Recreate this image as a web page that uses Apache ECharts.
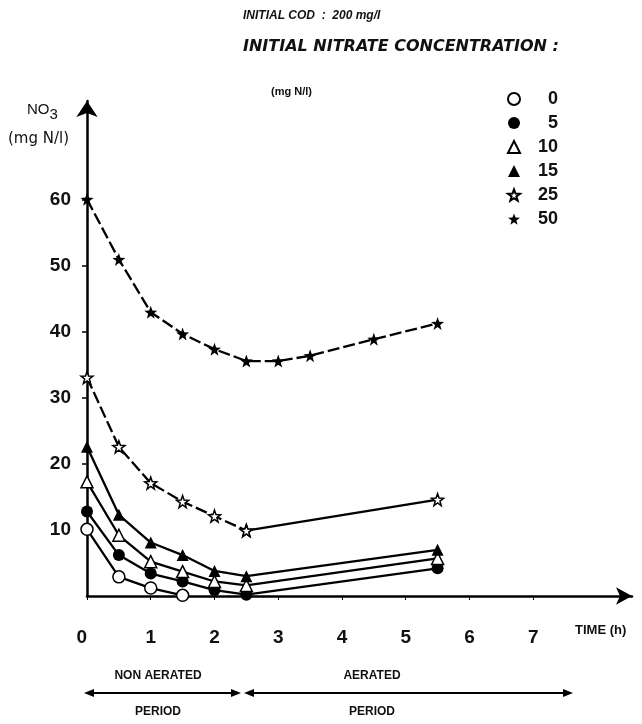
<!DOCTYPE html>
<html>
<head>
<meta charset="utf-8">
<script src="https://cdn.jsdelivr.net/npm/echarts@6/dist/echarts.min.js"></script>
<style>
  html, body { margin: 0; padding: 0; background: #fff; }
  #main { width: 642px; height: 724px; }
</style>
</head>
<body>
<div id="main"></div>
<script>
// temps (h) et concentrations
var timeA = [0, 0.5, 1, 1.5];
var timeB = [0, 0.5, 1, 1.5, 2, 2.5, 5.5];
var time50 = [0, 0.5, 1, 1.5, 2, 2.5, 3, 3.5, 4.5, 5.5];

var no3_0 = [10.1, 2.9, 1.2, 0.1];
var no3_5 = [12.8, 6.2, 3.4, 2.2, 0.9, 0.2, 4.2];
var no3_10 = [17.3, 9.2, 5.2, 3.7, 2.2, 1.6, 5.7];
var no3_15 = [22.6, 12.3, 8.1, 6.2, 3.8, 3.0, 7.0];
var no3_25 = [33.1, 22.6, 17.1, 14.3, 12.1, 9.9, 14.6];
var no3_50 = [60.1, 51.0, 43.0, 39.7, 37.4, 35.6, 35.6, 36.4, 38.9, 41.3];

var xTicks = [0, 1, 2, 3, 4, 5, 6, 7];
var yTicks = [10, 20, 30, 40, 50, 60];

var STAR = 'path://M50 0 L62 33 L98 35 L69 56 L79 90 L50 70 L21 90 L31 56 L2 35 L38 33 Z';
var FONT = "'Liberation Sans', Arial, sans-serif";
var WIDE = "'DejaVu Sans', sans-serif";

function pairs(t, v) {
    var out = [];
    for (var i = 0; i < v.length; i++) {
        out.push([t[i], v[i]]);
    }
    return out;
}

function makeSeries(name, t, v, symbol, hollow, size, dashed) {
    return {
        name: name,
        type: 'line',
        data: pairs(t, v),
        symbol: symbol,
        symbolSize: size,
        showAllSymbol: true,
        lineStyle: { color: '#000', width: 2.3, type: dashed ? [12, 4] : 'solid' },
        itemStyle: hollow
            ? { color: '#fff', borderColor: '#000', borderWidth: 1.5 }
            : { color: '#000', borderColor: '#000', borderWidth: 0 },
        emphasis: { disabled: true },
        z: 3
    };
}

// la courbe 25 est tiretée pendant la période non aérée, pleine ensuite
var s25a = makeSeries('25', timeB.slice(0, 6), no3_25.slice(0, 6), STAR, true, 12, true);
var s25b = makeSeries('25', timeB.slice(5), no3_25.slice(5), STAR, true, 12, false);
s25b.z = 2;

var seriesList = [
    makeSeries('0', timeA, no3_0, 'circle', true, 12, false),
    makeSeries('5', timeB, no3_5, 'circle', false, 12, false),
    makeSeries('10', timeB, no3_10, 'triangle', true, 12, false),
    makeSeries('15', timeB, no3_15, 'triangle', false, 12, false),
    s25b,
    s25a,
    makeSeries('50', time50, no3_50, STAR, false, 13, true)
];

var legendNames = ['0', '5', '10', '15', '25', '50'];
var legendIcons = ['circle', 'circle', 'triangle', 'triangle', STAR, STAR];
var legendData = [];
for (var i = 0; i < legendNames.length; i++) {
    legendData.push({ name: legendNames[i], icon: legendIcons[i] });
}

var chart = echarts.init(document.getElementById('main'), null, { renderer: 'canvas' });
var option = {
    backgroundColor: '#fff',
    animation: false,
    grid: { left: 87, right: 10, top: 101, bottom: 128 },
    legend: {
        orient: 'vertical',
        left: 502,
        top: 85,
        itemWidth: 12,
        itemHeight: 12,
        itemGap: 6,
        selectedMode: false,
        data: legendData,
        formatter: function (name) { return '{a|' + name + '}'; },
        textStyle: {
            rich: {
                a: { width: 33, align: 'right', fontSize: 18, lineHeight: 18, fontWeight: 'bold', fontFamily: FONT, color: '#111' }
            }
        }
    },
    xAxis: {
        type: 'value',
        min: 0,
        max: 8.55,
        interval: 1,
        splitLine: { show: false },
        axisLine: {
            show: true,
            lineStyle: { color: '#000', width: 2.5 },
            symbol: ['none', 'arrow'],
            symbolSize: [13, 16]
        },
        axisTick: { show: true, length: 4, lineStyle: { color: '#000', width: 1 }, customValues: xTicks },
        axisLabel: {
            customValues: xTicks,
            margin: 32,
            fontSize: 19,
            fontWeight: 'bold',
            fontFamily: FONT,
            color: '#111',
            alignMinLabel: 'right',
            formatter: function (v) { return v > 7 ? '' : String(v); }
        }
    },
    yAxis: {
        type: 'value',
        min: 0,
        max: 75,
        interval: 10,
        splitLine: { show: false },
        axisLine: {
            show: true,
            lineStyle: { color: '#000', width: 2.5 },
            symbol: ['none', 'arrow'],
            symbolSize: [16, 16]
        },
        axisTick: { show: true, length: 5, lineStyle: { color: '#000', width: 1.5 }, customValues: yTicks },
        axisLabel: {
            customValues: yTicks,
            margin: 16,
            fontSize: 19,
            fontWeight: 'bold',
            fontFamily: FONT,
            color: '#111',
            formatter: function (v) { return (v === 0 || v > 60) ? '' : String(v); }
        }
    },
    graphic: [
        { type: 'text', left: 243, top: 10, style: { text: 'INITIAL COD  :  200 mg/l', font: 'italic bold 12px ' + FONT, fill: '#111' } },
        { type: 'text', left: 243, top: 39, style: { text: 'INITIAL NITRATE CONCENTRATION :', font: 'italic bold 16px ' + WIDE, fill: '#111' } },
        { type: 'text', left: 271, top: 86, style: { text: '(mg N/l)', font: 'bold 11px ' + FONT, fill: '#111' } },
        {
            type: 'text', left: 27, top: 102,
            style: {
                text: '{n|NO}{s|3}',
                rich: {
                    n: { font: '15px ' + FONT, fill: '#111' },
                    s: { font: '15px ' + FONT, fill: '#111', padding: [10, 0, 0, 0] }
                }
            }
        },
        { type: 'text', left: 8, top: 132, style: { text: '(mg N/l)', font: '15px ' + WIDE, fill: '#111' } },
        { type: 'text', left: 575, top: 624, style: { text: 'TIME (h)', font: 'bold 13px ' + FONT, fill: '#111' } },
        { type: 'text', x: 158, top: 670, style: { text: 'NON AERATED', font: 'bold 12px ' + FONT, fill: '#111', textAlign: 'center' } },
        { type: 'text', x: 158, top: 706, style: { text: 'PERIOD', font: 'bold 12px ' + FONT, fill: '#111', textAlign: 'center' } },
        { type: 'text', x: 372, top: 670, style: { text: 'AERATED', font: 'bold 12px ' + FONT, fill: '#111', textAlign: 'center' } },
        { type: 'text', x: 372, top: 706, style: { text: 'PERIOD', font: 'bold 12px ' + FONT, fill: '#111', textAlign: 'center' } },
        { type: 'line', shape: { x1: 88, y1: 693, x2: 238, y2: 693 }, style: { stroke: '#000', lineWidth: 2 } },
        { type: 'polygon', shape: { points: [[84, 693], [94, 689], [94, 697]] }, style: { fill: '#000' } },
        { type: 'polygon', shape: { points: [[241, 693], [231, 689], [231, 697]] }, style: { fill: '#000' } },
        { type: 'line', shape: { x1: 248, y1: 693, x2: 568, y2: 693 }, style: { stroke: '#000', lineWidth: 2 } },
        { type: 'polygon', shape: { points: [[244, 693], [254, 689], [254, 697]] }, style: { fill: '#000' } },
        { type: 'polygon', shape: { points: [[573, 693], [563, 689], [563, 697]] }, style: { fill: '#000' } }
    ],
    series: seriesList
};
chart.setOption(option);
</script>
</body>
</html>
